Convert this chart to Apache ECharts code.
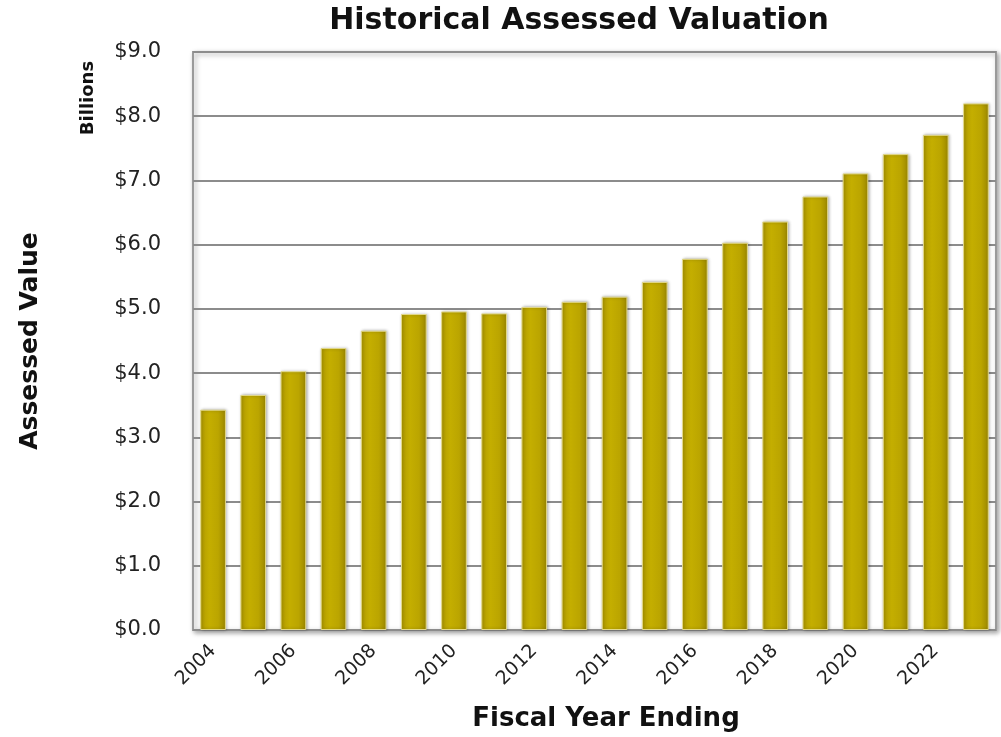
<!DOCTYPE html>
<html><head><meta charset="utf-8">
<script src="https://cdn.jsdelivr.net/npm/echarts@6/dist/echarts.min.js"></script>
<style>html,body{margin:0;padding:0;background:#fff}#c{width:1001px;height:737px}</style>
</head><body><div id="c"></div>
<script>
var years = ['2004','2005','2006','2007','2008','2009','2010','2011','2012','2013','2014','2015','2016','2017','2018','2019','2020','2021','2022','2023'];
var values = [3.43,3.66,4.03,4.39,4.66,4.92,4.96,4.93,5.03,5.11,5.19,5.42,5.78,6.03,6.36,6.75,7.11,7.41,7.71,8.20];
var yTicks = {min:0, max:9, interval:1};
var FONT = '"DejaVu Sans", sans-serif';
var chart = echarts.init(document.getElementById('c'));
chart.setOption({
  animation:false,
  title:{text:'Historical Assessed Valuation', left:574, top:1, textAlign:'center',
    textStyle:{fontFamily:FONT, fontSize:30, fontWeight:'bold', color:'#111'}},
  grid:{left:193, right:5, top:52, bottom:107, show:true, borderColor:'#9a9a9a', borderWidth:2,
    shadowColor:'rgba(0,0,0,0.35)', shadowBlur:5, shadowOffsetX:2, shadowOffsetY:2, backgroundColor:'#fff'},
  xAxis:{type:'category', data:years,
    axisLine:{show:false}, axisTick:{show:false},
    axisLabel:{interval:1, rotate:45, fontFamily:FONT, fontSize:19, color:'#222', margin:18}},
  yAxis:{type:'value', min:yTicks.min, max:yTicks.max, interval:yTicks.interval,
    axisLine:{show:false}, axisTick:{show:false},
    axisLabel:{formatter:function(v){return '$'+v.toFixed(1);}, fontFamily:FONT, fontSize:21, color:'#222', margin:32},
    splitLine:{lineStyle:{color:'#8c8c8c', width:2}}},
  series:[{type:'bar', data:values, barCategoryGap:'36%',
    itemStyle:{color:{type:'linear',x:0,y:0,x2:1,y2:0,colorStops:[
      {offset:0,color:'#b09a00'},{offset:0.35,color:'#c4ae00'},{offset:0.7,color:'#bba500'},{offset:1,color:'#9a8600'}]},
      borderColor:'#e3d98a', borderWidth:1,
      shadowColor:'rgba(0,0,0,0.3)', shadowBlur:3, shadowOffsetX:1, shadowOffsetY:0}}],
  graphic:[
    {type:'text', rotation:Math.PI/2, x:30, y:341, style:{text:'Assessed Value', fontFamily:FONT, fontSize:25, fontWeight:'bold', fill:'#111', align:'center', verticalAlign:'middle'}},
    {type:'text', rotation:Math.PI/2, x:88, y:98, style:{text:'Billions', fontFamily:FONT, fontSize:18, fontWeight:'bold', fill:'#111', align:'center', verticalAlign:'middle'}},
    {type:'text', x:606, y:719, style:{text:'Fiscal Year Ending', fontFamily:FONT, fontSize:26, fontWeight:'bold', fill:'#111', align:'center', verticalAlign:'middle'}}
  ]
});
</script></body></html>
